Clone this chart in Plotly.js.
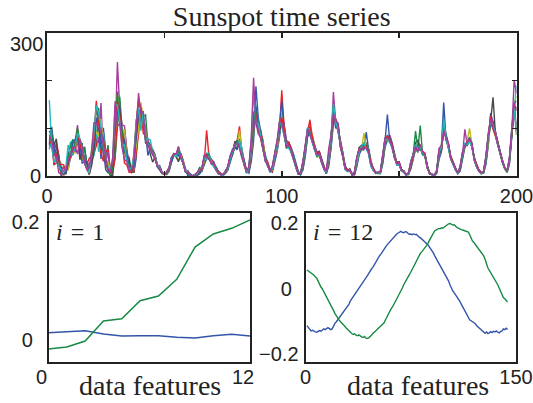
<!DOCTYPE html>
<html>
<head>
<meta charset="utf-8">
<script src="https://cdn.plot.ly/plotly-3.0.1.min.js"></script>
<style>html,body{margin:0;padding:0;background:#fff;}#chart{width:533px;height:403px;}</style>
</head>
<body>
<div id="chart"></div>
<script>
// Top panel: monthly sunspot numbers, one series per month i = 1..12, x = year index 1..200
const m01 = [58,73,70,35,44,0,10,13,14,38, 48,67,70,44,57,60,24,12,27,54, 74,104,36,101,55,47,4,22,45,177, 115,70,99,54,28,13,7,37,135,138, 114,103,73,58,56,45,21,22,8,3, 3,10,28,43,46,45,47,32,13,0, 1,0,0,1,4,11,22,36,39,35, 30,18,8,3,1,5,12,28,42,60, 55,78,55,35,10,6,30,73,188,122, 96,72,42,28,12,8,30,50,80,120, 110,75,70,60,46,26,10,4,12,40, 82,90,85,65,50,52,36,20,6,20, 58,110,118,100,75,52,22,12,14,3, 2,20,45,55,55,92,55,30,16,8, 6,5,25,60,75,85,70,46,28,30, 14,10,3,4,15,35,55,50,60,50, 46,22,7,3,1,5,35,50,115,85, 68,40,28,16,6,10,35,60,70,75, 62,38,22,12,6,6,25,65,132,112, 92,70,48,32,18,8,25,80,140,108];
const m02 = [63,76,44,50,32,3,11,7,21,52, 44,60,91,73,32,60,26,11,30,66, 64,143,46,91,29,65,0,12,37,109, 166,98,75,38,39,8,8,48,106,129, 125,128,62,64,55,44,23,20,7,3, 4,11,30,47,41,48,44,30,12,3, 2,0,0,2,14,10,26,42,45,32, 22,20,10,5,1,8,15,31,50,58, 68,70,48,30,8,8,38,84,128,106, 80,68,40,26,10,12,34,56,86,130, 98,70,62,56,42,24,8,3,15,46, 88,100,80,62,44,46,34,18,8,25, 62,120,110,105,70,48,20,14,12,4, 4,25,50,62,60,70,58,32,14,7, 5,6,28,65,80,80,66,44,26,26, 12,9,2,5,18,38,60,56,106,46, 44,20,6,4,2,7,40,56,95,80, 62,38,26,14,5,12,38,65,65,80, 66,36,20,11,5,7,28,70,115,108, 88,66,46,30,16,7,28,85,145,86];
const m03 = [70,89,45,71,46,2,7,5,26,49, 47,75,81,46,34,40,25,37,43,46, 64,80,47,31,51,56,12,6,39,134, 118,98,53,37,27,11,9,48,87,143, 120,96,74,63,53,43,24,18,7,4, 5,12,32,45,43,48,47,33,10,10, 4,0,0,4,13,14,30,96,40,36, 25,14,5,4,2,6,18,35,45,70, 75,104,52,32,12,10,42,95,148,98, 92,75,38,30,14,10,38,60,92,180, 105,68,66,52,40,22,7,5,18,50, 92,118,82,58,48,50,32,16,5,28, 66,130,120,98,72,50,18,10,15,2, 5,28,55,58,58,68,52,28,15,6, 7,7,30,68,82,82,68,42,30,28, 13,11,4,3,20,40,62,52,58,52, 48,21,5,3,1,8,45,52,100,88, 66,42,30,15,7,14,40,62,72,78, 64,40,24,13,7,8,32,72,118,115, 90,72,50,33,17,9,30,88,150,95];
const m04 = [56,88,56,59,38,14,7,9,30,72, 47,58,72,60,33,34,22,6,33,43, 97,51,65,92,33,44,11,22,96,145, 145,95,68,41,28,10,16,85,127,109, 123,94,77,76,52,42,22,16,6,4, 6,13,30,48,40,51,38,28,11,11, 3,0,0,5,12,16,34,48,48,28, 26,16,7,6,1,9,14,37,56,64, 62,72,60,26,6,12,48,100,150,112, 85,60,45,22,8,14,42,58,88,125, 90,72,58,58,44,20,6,2,20,52, 96,92,78,64,42,44,30,19,9,30, 70,140,105,110,64,44,16,11,11,5, 6,30,52,65,66,65,56,26,12,8, 6,5,32,70,86,78,62,45,24,25, 11,8,2,6,22,42,58,58,64,44, 42,18,6,4,2,9,42,58,105,76, 60,36,24,13,6,16,42,68,68,82, 70,34,19,10,5,7,34,75,112,105, 86,64,44,28,15,8,32,90,148,190];
const m05 = [85,90,61,60,36,21,0,13,38,46, 49,72,107,40,33,44,20,27,30,78, 74,70,153,38,41,51,4,11,80,239, 140,107,105,54,23,6,21,92,135,113, 124,93,74,62,51,41,21,15,6,4, 7,14,33,44,45,33,43,26,9,9, 1,0,0,7,10,14,36,45,38,30, 24,17,6,2,2,10,20,33,48,68, 70,75,45,28,9,9,52,105,143,100, 88,65,35,25,11,16,36,64,95,118, 102,62,72,50,36,23,9,4,22,55, 90,96,75,55,46,48,34,15,7,34, 72,176,112,95,68,46,19,13,13,3, 4,34,58,60,62,62,50,24,13,5, 8,8,35,75,78,86,65,40,27,27, 12,10,3,4,24,44,66,54,56,50, 45,19,5,3,1,10,48,54,98,82, 65,38,27,16,5,15,44,98,66,76, 60,37,22,12,6,9,36,80,128,110, 94,68,48,31,17,10,33,92,201,174];
const m06 = [84,100,51,40,32,27,0,13,13,45, 50,48,99,77,36,30,20,3,33,77, 94,83,120,57,28,29,12,19,81,172, 114,88,98,38,25,9,26,59,99,154, 120,91,64,61,50,40,20,14,5,4, 7,15,35,42,43,35,40,30,10,12, 2,0,2,6,12,11,33,38,44,31, 21,13,4,4,3,7,16,40,52,62, 64,96,50,22,7,14,56,118,133,105, 78,70,36,24,9,13,40,55,102,132, 95,66,60,55,40,18,5,6,25,58, 98,102,84,60,40,42,28,17,6,36, 74,145,108,104,62,40,15,9,10,4, 7,30,54,56,90,60,54,27,11,7, 5,6,38,72,82,75,60,43,25,24, 10,9,1,5,22,40,64,50,66,48, 40,17,7,5,1,9,50,60,128,78, 58,34,25,12,7,18,46,60,74,100, 66,33,20,10,4,8,38,78,108,102, 84,62,45,29,14,9,35,95,150,168];
const m07 = [95,85,66,78,22,19,9,4,25,44, 51,66,94,34,54,30,27,3,22,53, 119,110,68,77,28,18,1,1,95,153, 143,86,74,37,32,6,36,83,128,142, 117,69,71,46,29,39,19,13,5,5, 8,15,36,46,40,30,45,25,11,6, 4,0,3,4,8,18,38,40,35,27, 27,15,9,5,1,11,17,38,44,72, 72,68,42,30,10,13,62,124,140,92, 95,58,40,20,13,18,44,68,96,110, 88,60,64,48,34,21,7,3,24,56, 94,88,70,56,44,50,30,14,8,40, 76,150,115,92,66,45,17,12,14,2, 5,38,60,64,60,64,48,22,14,6, 7,7,36,78,80,80,64,38,28,29, 13,11,3,6,28,46,70,75,60,46, 44,20,4,3,2,11,46,56,100,84, 64,40,28,15,4,17,45,66,64,74, 62,38,23,12,7,10,37,85,116,165, 90,70,50,32,18,10,34,92,148,142];
const m08 = [66,103,60,29,39,12,3,6,51,39, 71,76,91,68,27,30,30,4,41,67, 120,126,59,56,13,7,8,24,112,140, 112,86,66,44,20,10,20,90,137,136, 103,87,43,60,48,38,20,14,6,4, 8,16,32,44,46,43,37,29,8,8, 5,0,2,5,16,12,39,46,40,30, 20,12,5,3,2,8,19,42,55,59, 60,72,48,24,6,16,58,117,145,108, 82,62,30,26,8,15,38,62,104,158, 98,70,68,56,42,19,4,5,28,60, 100,94,78,58,42,44,27,16,5,42, 78,135,100,108,60,42,14,10,12,3, 8,35,56,58,68,58,55,25,12,7, 6,8,40,74,129,72,58,42,23,23, 11,8,2,4,26,42,62,52,62,52, 42,16,6,4,1,10,52,62,154,75, 62,36,24,13,6,20,48,62,70,80, 68,34,19,10,5,9,40,82,110,100, 86,66,46,28,16,11,36,98,152,158];
const m09 = [76,91,24,27,28,8,18,12,40,63, 77,61,101,69,68,28,16,4,43,75, 149,104,101,51,29,8,3,16,116,172, 111,94,51,34,18,10,32,112,157,141, 112,77,67,59,47,37,21,15,6,4, 7,16,37,45,42,53,42,27,10,9, 3,0,3,6,18,15,40,41,45,26, 22,18,6,4,2,9,14,36,47,66, 75,60,38,26,8,18,66,118,136,95, 90,66,34,22,10,20,46,66,100,115, 92,58,62,52,38,17,6,4,26,54, 88,86,72,54,40,46,29,15,9,44, 80,140,110,96,70,42,16,11,13,4, 6,40,52,62,64,60,50,21,13,6, 5,7,38,80,80,78,62,40,26,26, 12,10,4,5,30,45,94,55,58,45, 46,19,5,3,1,12,48,58,105,80, 60,38,26,14,6,18,46,65,68,78, 64,36,21,11,6,9,38,84,114,106, 88,68,48,30,15,10,34,94,145,143];
const m10 = [76,66,23,47,25,24,24,14,33,38, 60,51,89,69,46,28,14,5,44,78, 158,104,90,79,26,14,6,30,107,156, 124,77,27,23,8,8,47,112,157,142, 90,84,62,59,46,36,22,16,7,4, 8,16,38,47,44,62,40,26,9,10, 2,0,4,7,15,13,42,44,38,29, 25,14,8,6,3,10,18,40,53,63, 68,66,46,22,9,15,70,135,128,102, 75,55,36,24,12,17,42,60,110,122, 100,64,70,58,36,20,5,6,27,62, 96,105,80,62,46,50,31,18,7,45, 82,138,108,102,62,40,18,13,11,3, 7,36,58,56,62,62,52,26,12,8, 7,9,42,76,84,76,66,44,27,28, 13,9,3,6,28,43,64,53,64,50, 43,18,6,4,2,11,55,55,95,78, 66,37,25,15,7,19,50,63,72,76, 66,35,22,12,6,10,42,86,125,98, 85,67,47,31,17,11,36,96,146,136];
const m11 = [159,63,29,38,20,13,7,17,65,43, 46,60,90,78,61,26,14,6,55,91, 148,132,100,61,41,18,15,35,146,150, 114,60,67,32,15,17,40,116,142,95, 134,82,67,57,45,41,23,17,7,5, 9,17,40,44,41,61,43,24,10,10, 2,0,2,5,13,16,40,35,42,32, 19,16,5,3,1,11,17,35,49,65, 66,74,44,28,7,17,72,177,110,110, 86,63,33,21,11,16,45,65,115,106, 85,68,58,50,35,18,7,5,28,58, 102,90,70,57,42,45,28,13,8,50, 84,152,112,98,64,44,13,10,12,5, 9,32,55,62,70,56,46,20,11,7, 6,8,40,78,76,70,60,39,24,24, 11,10,2,5,32,44,66,57,60,48, 44,17,5,4,1,12,50,60,120,82, 62,36,24,13,5,20,48,68,66,72, 62,34,20,10,5,11,40,88,118,104, 92,66,49,33,16,12,35,100,142,96];
const m12 = [85,75,44,40,7,4,20,9,34,43, 57,61,46,77,61,26,13,19,53,112, 112,102,96,64,43,12,8,40,157,105, 110,59,35,30,11,14,27,113,174,130, 136,74,66,56,44,39,20,16,7,4, 9,18,38,46,46,60,38,27,8,9, 1,0,1,8,11,17,45,38,39,25, 26,14,6,3,3,8,20,41,54,64, 70,58,40,24,10,20,80,206,112,88, 81,61,32,22,10,21,46,74,114,110, 90,62,64,54,35,19,6,5,30,65, 99,88,72,58,44,47,27,15,10,57, 86,132,117,111,61,43,16,11,12,3, 9,40,57,58,60,58,50,24,14,6, 8,9,44,80,80,74,63,38,26,27, 12,9,3,7,30,45,62,52,66,51, 43,16,6,3,2,11,58,64,95,80, 70,36,26,14,6,21,50,64,73,78, 69,33,22,10,6,10,43,91,120,100, 91,65,49,30,17,10,40,101,153,138];

// Bottom-left panel (i = 1): 12 data features
const i1Blue  = [0.0124,0.0136,0.0158,0.0102,0.0068,0.0073,0.0073,0.0045,0.0034,0.0073,0.0096,0.0068];
const i1Green = [-0.0153,-0.0119,-0.0017,0.0322,0.0362,0.0667,0.0746,0.1028,0.1576,0.1797,0.1893,0.2034];

// Bottom-right panel (i = 12): 144 data features
const i12Blue = [-0.112,-0.118,-0.122,-0.128,-0.126,-0.130,-0.131,-0.132,-0.129,-0.127,-0.129,-0.126,-0.122,-0.124,-0.121,-0.118,-0.121,-0.124,-0.122,-0.112,-0.105,-0.100,-0.094,-0.088,-0.082,-0.075,-0.070,-0.063,-0.058,-0.054,-0.046,-0.036,-0.030,-0.024,-0.018,-0.012,-0.006,0.001,0.008,0.014,0.020,0.028,0.033,0.040,0.047,0.055,0.061,0.066,0.074,0.082,0.088,0.095,0.103,0.108,0.116,0.122,0.128,0.134,0.139,0.146,0.151,0.156,0.160,0.165,0.168,0.171,0.174,0.176,0.173,0.172,0.175,0.174,0.170,0.167,0.168,0.166,0.168,0.166,0.167,0.162,0.158,0.156,0.152,0.150,0.144,0.140,0.136,0.130,0.124,0.118,0.111,0.102,0.094,0.088,0.080,0.074,0.066,0.058,0.050,0.042,0.034,0.024,0.012,0.002,-0.006,-0.012,-0.018,-0.025,-0.032,-0.038,-0.046,-0.054,-0.062,-0.068,-0.076,-0.086,-0.094,-0.097,-0.100,-0.103,-0.106,-0.112,-0.116,-0.120,-0.124,-0.128,-0.132,-0.135,-0.131,-0.136,-0.134,-0.130,-0.133,-0.129,-0.131,-0.128,-0.132,-0.134,-0.130,-0.128,-0.122,-0.124,-0.120,-0.124];
const i12Green = [0.058,0.056,0.052,0.049,0.046,0.042,0.037,0.033,0.024,0.014,0.006,0.000,-0.008,-0.015,-0.022,-0.030,-0.038,-0.048,-0.058,-0.066,-0.075,-0.083,-0.090,-0.095,-0.100,-0.106,-0.110,-0.114,-0.119,-0.124,-0.127,-0.131,-0.136,-0.139,-0.137,-0.141,-0.143,-0.140,-0.144,-0.146,-0.148,-0.145,-0.150,-0.151,-0.149,-0.146,-0.141,-0.136,-0.133,-0.128,-0.124,-0.120,-0.117,-0.112,-0.108,-0.103,-0.094,-0.085,-0.077,-0.068,-0.061,-0.055,-0.047,-0.040,-0.032,-0.024,-0.015,-0.006,0.003,0.013,0.022,0.030,0.038,0.044,0.051,0.060,0.068,0.076,0.086,0.094,0.104,0.110,0.114,0.120,0.126,0.130,0.137,0.146,0.155,0.162,0.170,0.177,0.180,0.182,0.185,0.184,0.187,0.186,0.190,0.191,0.196,0.199,0.200,0.197,0.195,0.196,0.190,0.187,0.186,0.183,0.181,0.180,0.179,0.177,0.176,0.174,0.166,0.156,0.146,0.142,0.136,0.128,0.124,0.118,0.112,0.106,0.101,0.090,0.076,0.064,0.057,0.050,0.042,0.037,0.030,0.022,0.013,0.003,-0.008,-0.018,-0.026,-0.030,-0.036,-0.040];

// Tick labels / texts
const titleText = 'Sunspot time series';
const topXTickVals = [0,50,100,150,200];
const topXTickText = ['0','','100','','200'];
const topYTickVals = [0,100,200,300];
const topYTickText = ['0','','',''];
const xTitle = 'data features';

const monthSeries = [m01,m02,m03,m04,m05,m06,m07,m08,m09,m10,m11,m12];
const palette = ['#3355aa','#178a44','#e8232a','#22b8bc','#a53c9e','#bdbd22','#484848'];
const BLUE = '#3355aa', GREEN = '#178a44';
const idx = a => a.map((_, k) => k + 1);

const traces = [];
monthSeries.forEach((s, k) => {
  traces.push({x: idx(s), y: s, type: 'scatter', mode: 'lines', xaxis: 'x', yaxis: 'y',
    line: {color: palette[k % 7], width: 1.4}, hoverinfo: 'skip'});
});
traces.push({x: idx(i1Blue), y: i1Blue, mode: 'lines', xaxis: 'x2', yaxis: 'y2', line: {color: BLUE, width: 1.5}});
traces.push({x: idx(i1Green), y: i1Green, mode: 'lines', xaxis: 'x2', yaxis: 'y2', line: {color: GREEN, width: 1.5}});
traces.push({x: idx(i12Blue), y: i12Blue, mode: 'lines', xaxis: 'x3', yaxis: 'y3', line: {color: BLUE, width: 1.4}});
traces.push({x: idx(i12Green), y: i12Green, mode: 'lines', xaxis: 'x3', yaxis: 'y3', line: {color: GREEN, width: 1.4}});

const W = 533, H = 403;
const px = v => v / W, py = v => (H - v) / H;
const axCommon = {showline: true, linewidth: 2, linecolor: '#222', showgrid: false, zeroline: false,
  ticklabeloverflow: 'allow',
  tickfont: {family: 'Liberation Sans, Arial, sans-serif', size: 20, color: '#222'}};
const SERIF = 'Liberation Serif, Times New Roman, serif';

const layout = {
  width: W, height: H, margin: {l: 0, r: 0, t: 0, b: 0},
  paper_bgcolor: '#fff', plot_bgcolor: '#fff', showlegend: false,
  title: {text: titleText, font: {family: SERIF, size: 28, color: '#222'},
    xref: 'paper', x: px(281.75), xanchor: 'center', yref: 'paper', y: py(16), yanchor: 'middle'},
  xaxis: Object.assign({}, axCommon, {domain: [px(47), px(516.5)], range: [0, 200], anchor: 'y',
    tickvals: topXTickVals, ticktext: topXTickText, ticks: 'inside', ticklen: 5, tickwidth: 1.5,
    tickcolor: '#222', mirror: 'ticks', ticklabelstandoff: 1}),
  yaxis: Object.assign({}, axCommon, {domain: [py(176), py(33)], range: [0, 300], anchor: 'x',
    tickvals: topYTickVals, ticktext: topYTickText, ticks: 'inside', ticklen: 5, tickwidth: 1.5,
    tickcolor: '#222', mirror: 'ticks'}),
  xaxis2: Object.assign({}, axCommon, {domain: [px(48.5), px(250)], range: [1, 12], anchor: 'y2',
    tickvals: [1, 12], ticktext: ['0', '12'], ticks: '', mirror: true, ticklabelshift: -7, ticklabelstandoff: -4}),
  yaxis2: Object.assign({}, axCommon, {domain: [py(361.5), py(213)], range: [-0.0364, 0.2153], anchor: 'x2',
    tickvals: [0, 0.2], ticktext: ['0\u2004', '0.2'], ticks: '', mirror: true, ticklabelstandoff: 3}),
  xaxis3: Object.assign({}, axCommon, {domain: [px(305.5), px(516)], range: [0, 150], anchor: 'y3',
    tickvals: [0, 150], ticktext: ['0', '150'], ticks: '', mirror: true, ticklabelstandoff: -4}),
  yaxis3: Object.assign({}, axCommon, {domain: [py(361.5), py(213)], range: [-0.2214, 0.232], anchor: 'x3',
    tickvals: [-0.2, 0, 0.2], ticktext: ['\u22120.2', '0\u2004', '0.2'], ticks: '', mirror: true, ticklabelstandoff: 1}),
  annotations: [
    {text: '300', xref: 'paper', x: px(45), xanchor: 'right', yref: 'y', y: 300, yanchor: 'middle', yshift: -11,
      showarrow: false, font: {family: 'Liberation Sans, Arial, sans-serif', size: 20, color: '#222'}},
    {text: '<i>i</i>\u2004=\u20041', xref: 'paper', x: px(54), xanchor: 'left', yref: 'paper', y: py(232), yanchor: 'middle',
      showarrow: false, font: {family: SERIF, size: 24, color: '#222'}},
    {text: '<i>i</i>\u2004=\u200412', xref: 'paper', x: px(310.5), xanchor: 'left', yref: 'paper', y: py(231.5), yanchor: 'middle',
      showarrow: false, font: {family: SERIF, size: 24, color: '#222'}},
    {text: xTitle, xref: 'paper', x: px(149.5), xanchor: 'center', yref: 'paper', y: py(385.5), yanchor: 'middle',
      showarrow: false, font: {family: SERIF, size: 28, color: '#222'}},
    {text: xTitle, xref: 'paper', x: px(417.5), xanchor: 'center', yref: 'paper', y: py(385.5), yanchor: 'middle',
      showarrow: false, font: {family: SERIF, size: 28, color: '#222'}}
  ]
};

Plotly.newPlot('chart', traces, layout, {displayModeBar: false, staticPlot: true});
</script>
</body>
</html>
